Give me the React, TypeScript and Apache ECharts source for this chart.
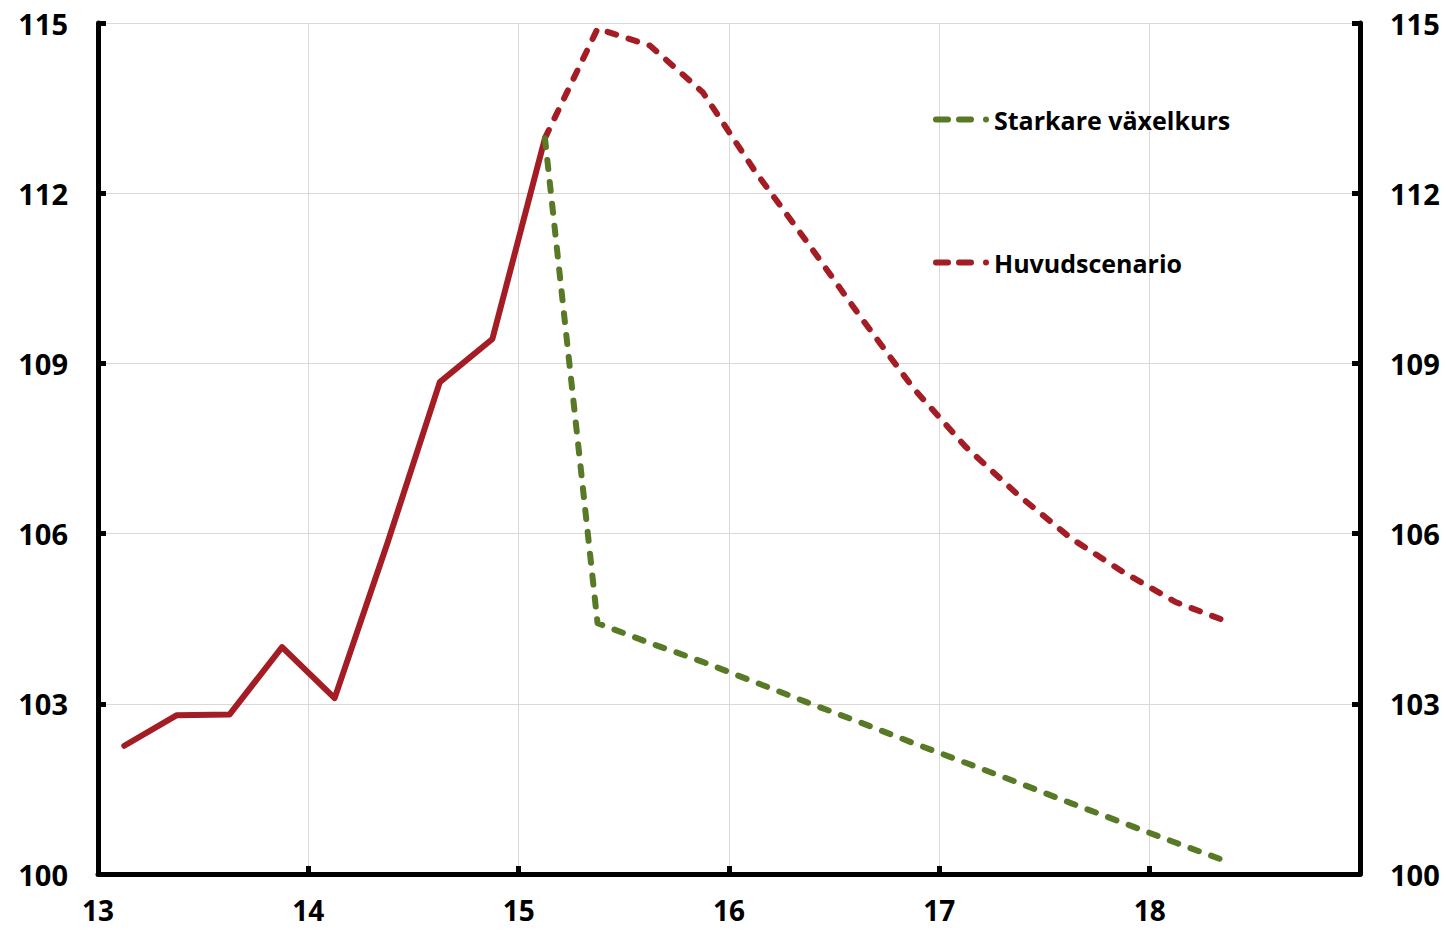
import { useEffect, useRef } from "react";
import * as echarts from "echarts";

// Quarterly x positions (year fraction, e.g. 13.125 = Q1 2013)
const histX = [13.125, 13.375, 13.625, 13.875, 14.125, 14.375, 14.625, 14.875, 15.125];
const histValues = [102.26, 102.8, 102.81, 104.0, 103.1, 105.82, 108.67, 109.43, 112.97];

const fcX = [15.125, 15.375, 15.625, 15.875, 16.125, 16.375, 16.625, 16.875, 17.125, 17.375, 17.625, 17.875, 18.125, 18.375];
const mainValues = [112.97, 114.9, 114.6, 113.78, 112.38, 111.12, 109.82, 108.57, 107.53, 106.68, 105.92, 105.32, 104.79, 104.44];
const strongValues = [112.97, 104.42, 104.07, 103.74, 103.38, 103.02, 102.67, 102.31, 101.96, 101.61, 101.25, 100.9, 100.55, 100.21];

const legendNames = ["Starkare växelkurs", "Huvudscenario"];
const histName = "Utfall";

const xMin = 13;
const xMax = 19;
const xInterval = 1;
const yMin = 100;
const yMax = 115;
const yInterval = 3;

const RED = "#A41C24";
const GREEN = "#587A26";
const FONT = "Open Sans";

// legend icon: two rounded dashes and a dot (56 x 6 box)
const DASH_ICON =
  "path://M3,0 H15 A3,3 0 0 1 15,6 H3 A3,3 0 0 1 3,0 Z " +
  "M26,0 H38 A3,3 0 0 1 38,6 H26 A3,3 0 0 1 26,0 Z " +
  "M50,3 A3,3 0 1 1 56,3 A3,3 0 1 1 50,3 Z";

const zip = (xs: number[], ys: number[]) => xs.map((x, i) => [x, ys[i]]);

export default function App() {
  const ref = useRef<HTMLDivElement>(null);

  useEffect(() => {
    if (!ref.current) return;
    const chart = echarts.init(ref.current, null, { renderer: "svg" });

    const axisLine = { show: true, lineStyle: { color: "#000", width: 5 } };
    const axisTick = { show: true, inside: true, length: 8, lineStyle: { color: "#000", width: 5 } };
    const labelStyle = { fontFamily: FONT, fontSize: 29, fontWeight: "bold" as const, color: "#000" };
    const grid = { show: true, lineStyle: { color: "#d9d9d9", width: 1 } };

    chart.setOption({
      animation: false,
      backgroundColor: "#fff",
      textStyle: { fontFamily: FONT },
      grid: { left: 98, right: 87, top: 23, bottom: 56, containLabel: false },
      legend: {
        orient: "vertical",
        left: 928,
        top: 102,
        icon: DASH_ICON,
        itemWidth: 56,
        itemHeight: 6,
        itemGap: 118,
        symbolKeepAspect: false,
        data: legendNames,
        textStyle: { fontFamily: FONT, fontSize: 25, fontWeight: "bold", color: "#000" },
      },
      xAxis: {
        type: "value",
        min: xMin,
        max: xMax,
        interval: xInterval,
        axisLine,
        axisTick,
        axisLabel: { ...labelStyle, fontSize: 28, margin: 22, showMaxLabel: false },
        splitLine: grid,
      },
      yAxis: [
        {
          type: "value",
          position: "left",
          min: yMin,
          max: yMax,
          interval: yInterval,
          axisLine,
          axisTick,
          axisLabel: { ...labelStyle, margin: 30 },
          splitLine: grid,
        },
        {
          type: "value",
          position: "right",
          min: yMin,
          max: yMax,
          interval: yInterval,
          axisLine,
          axisTick,
          axisLabel: { ...labelStyle, margin: 30 },
          splitLine: { show: false },
        },
      ],
      series: [
        {
          name: histName,
          type: "line",
          data: zip(histX, histValues),
          symbol: "none",
          lineStyle: { color: RED, width: 6, cap: "round", join: "round" },
          itemStyle: { color: RED },
          z: 2,
        },
        {
          name: legendNames[1],
          type: "line",
          data: zip(fcX, mainValues),
          symbol: "none",
          lineStyle: { color: RED, width: 6, type: [9, 13], cap: "round", join: "round" },
          itemStyle: { color: RED },
          z: 3,
        },
        {
          name: legendNames[0],
          type: "line",
          data: zip(fcX, strongValues),
          symbol: "none",
          lineStyle: { color: GREEN, width: 6, type: [9, 13], cap: "round", join: "round" },
          itemStyle: { color: GREEN },
          z: 4,
        },
      ],
    });

    return () => chart.dispose();
  }, []);

  return (
    <div
      ref={ref}
      style={{ position: "fixed", left: 0, top: 0, width: 1447, height: 930, background: "#fff" }}
    />
  );
}
